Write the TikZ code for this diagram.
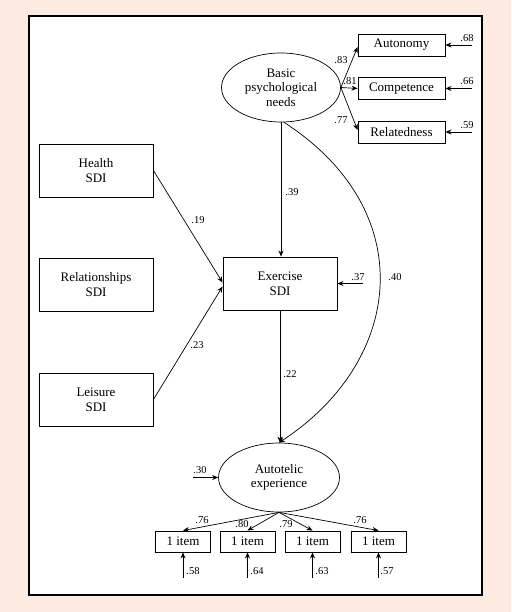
\documentclass[tikz,border=0pt]{standalone}
\usepackage{fontspec}
\setmainfont{Liberation Serif}
\usetikzlibrary{arrows.meta,shapes.geometric}
\definecolor{bgpeach}{RGB}{253,235,225}
\begin{document}
\begin{tikzpicture}[x=1pt,y=-1pt,
  box/.style={draw,line width=0.9pt,minimum width=114pt,minimum height=53pt,align=center,inner sep=0pt,font=\fontsize{13}{15}\selectfont},
  sbox/.style={draw,line width=0.9pt,minimum width=87pt,minimum height=22pt,inner sep=0pt,font=\fontsize{13}{15}\selectfont},
  ibox/.style={draw,line width=0.9pt,minimum width=55pt,minimum height=21pt,inner sep=0pt,font=\fontsize{13}{15}\selectfont},
  lat/.style={draw,ellipse,line width=0.7pt,minimum width=119pt,minimum height=69pt,inner sep=0pt,align=center,font=\fontsize{13}{14.5}\selectfont},
  arr/.style={line width=0.7pt,-{Stealth[length=6pt,width=5pt]}},
  lbl/.style={inner sep=0pt,font=\fontsize{10.5}{12}\selectfont}]
\useasboundingbox (0,0) rectangle (511,612);
\fill[bgpeach] (0,0) rectangle (511,612);
\draw[line width=1.3pt,fill=white] (29,16) rectangle (482,595);

% nodes
\node[lat] (bpn) at (281,87.5) {Basic\\psychological\\needs};
\node[sbox] (aut) at (401.5,45) {Autonomy};
\node[sbox] (com) at (401.5,88.5) {Competence};
\node[sbox] (rel) at (401.5,132) {Relatedness};
\node[box] (hea) at (96,170.5) {Health\\SDI};
\node[box] (rsh) at (96,285) {Relationships\\SDI};
\node[box] (lei) at (96,399.5) {Leisure\\SDI};
\node[box] (exe) at (280,283.5) {Exercise\\SDI};
\node[lat,minimum width=121pt] (ate) at (279,477.5) {Autotelic\\experience};
\node[ibox] (i1) at (183,541.5) {1 item};
\node[ibox] (i2) at (247.5,541.5) {1 item};
\node[ibox] (i3) at (312.5,541.5) {1 item};
\node[ibox] (i4) at (378.5,541.5) {1 item};

% error sources
\coordinate (eaut) at (472,45);
\coordinate (ecom) at (472,88.5);
\coordinate (erel) at (472,132);
\coordinate (eexe) at (363,283.5);
\coordinate (eate) at (193,477.5);
\coordinate (ei1) at (183,578);
\coordinate (ei2) at (247.5,578);
\coordinate (ei3) at (312.5,578);
\coordinate (ei4) at (378.5,578);

% structural paths
\draw[arr] (bpn.east) -- ([yshift=-2pt]aut.west);
\draw[arr] (bpn.east) -- (com.west);
\draw[arr] (bpn.east) -- ([yshift=2pt]rel.west);
\draw[arr] (bpn.south) -- (bpn.south |- exe.north);
\draw[arr] (hea.east) -- ([yshift=1pt]exe.west);
\draw[arr] (lei.east) -- ([yshift=-3pt]exe.west);
\draw[arr] (exe.south) -- (exe.south |- ate.north);
\draw[arr] ([xshift=3pt]bpn.south) .. controls (420,210) and (405,360) .. (ate.north);
\draw[arr] (ate.south) -- (i1.north);
\draw[arr] (ate.south) -- (i2.north);
\draw[arr] (ate.south) -- (i3.north);
\draw[arr] (ate.south) -- (i4.north);

% error arrows
\draw[arr] (eaut) -- (aut.east);
\draw[arr] (ecom) -- (com.east);
\draw[arr] (erel) -- (rel.east);
\draw[arr] (eexe) -- (exe.east);
\draw[arr] (eate) -- (ate.west);
\draw[arr] (ei1) -- (i1.south);
\draw[arr] (ei2) -- (i2.south);
\draw[arr] (ei3) -- (i3.south);
\draw[arr] (ei4) -- (i4.south);

% labels
\node[lbl] (l83) at (341,60) {.83};
\node[lbl] (l81) at (350,81) {.81};
\node[lbl] (l77) at (341,120) {.77};
\node[lbl] (l68) at (467,38) {.68};
\node[lbl] (l66) at (467,81) {.66};
\node[lbl] (l59) at (467,125) {.59};
\node[lbl] (l39) at (292,192) {.39};
\node[lbl] (l19) at (198,220) {.19};
\node[lbl] (l23) at (197,345) {.23};
\node[lbl] (l37) at (358,277) {.37};
\node[lbl] (l40) at (395,277) {.40};
\node[lbl] (l22) at (290,374) {.22};
\node[lbl] (l30) at (200,470) {.30};
\node[lbl] (l76a) at (202,520) {.76};
\node[lbl] (l80) at (242,524) {.80};
\node[lbl] (l79) at (286,524) {.79};
\node[lbl] (l76b) at (360,520) {.76};
\node[lbl] (l58) at (193,571) {.58};
\node[lbl] (l64) at (257,571) {.64};
\node[lbl] (l63) at (322,571) {.63};
\node[lbl] (l57) at (387,571) {.57};
\end{tikzpicture}
\end{document}
